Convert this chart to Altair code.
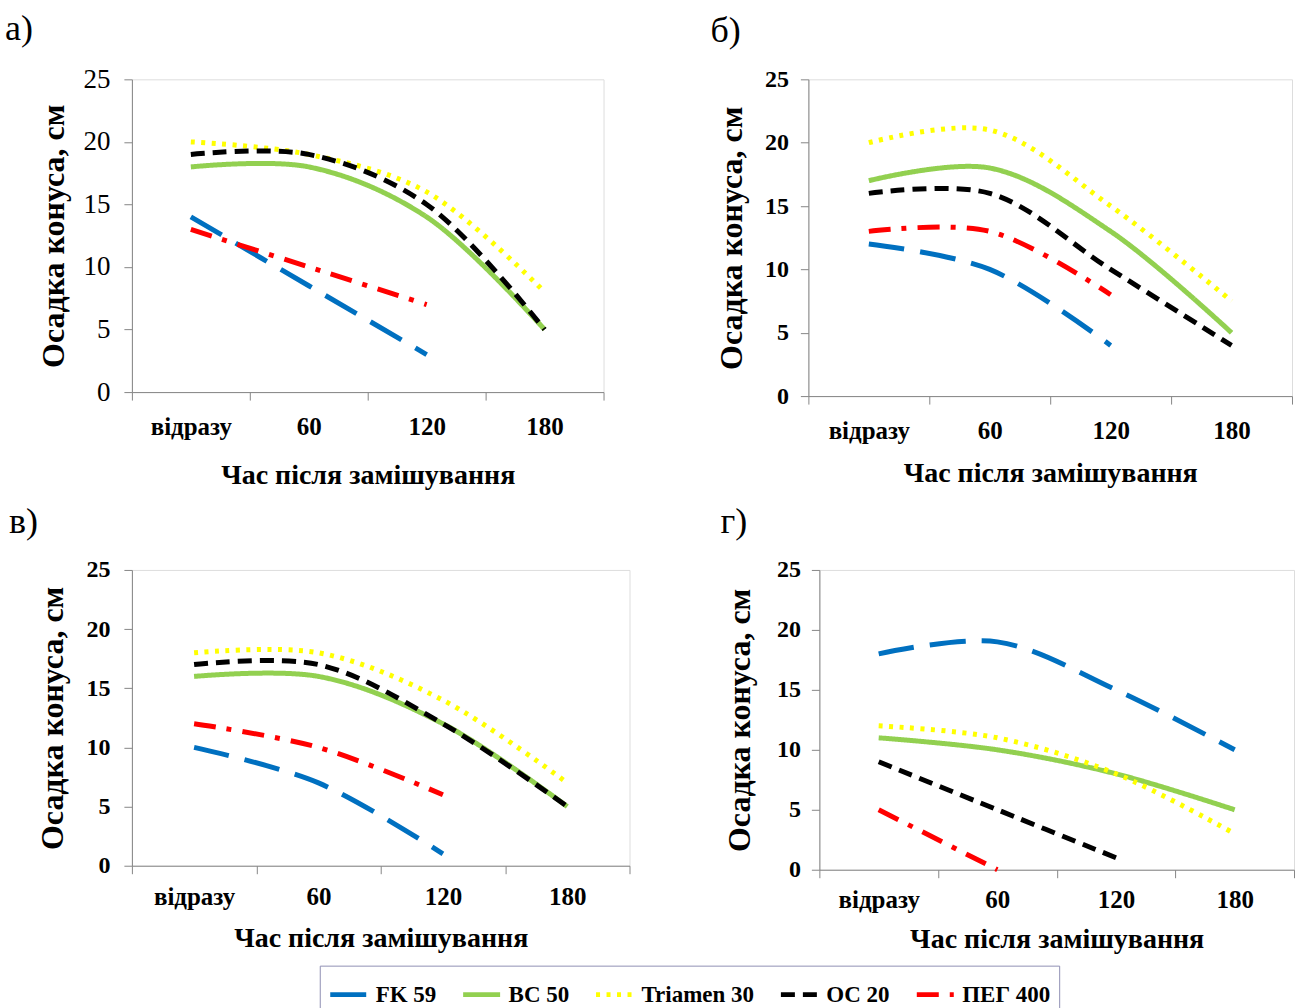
import altair as alt
import pandas as pd

FONT = "Liberation Serif"

categories = ["відразу", "60", "120", "180"]
series_names = ["FK 59", "BC 50", "Triamen 30", "OC 20", "ПЕГ 400"]
series_colors = ["#0070C0", "#92D050", "#FFFF00", "#000000", "#FF0000"]
series_dashes = [[36, 16], [1, 0], [4, 6.5], [14, 8], [22, 11, 5, 11]]

y_title = "Осадка конуса, см"
x_titles = ["Час після замішування", "Час після замішування",
            "Час після замішування", "Час  після замішування"]
panel_letters = ["а)", "б)", "в)", "г)"]

# panel а)
a_fk = [14, 8.5, 3, None]
a_bc = [18, 18, 14, 5]
a_tr = [20, 19, 16, 8]
a_oc = [19, 19, 15, 5]
a_peg = [13, 10, 7, None]
# panel б)
b_fk = [12, 10, 4, None]
b_bc = [17, 18, 13, 5]
b_tr = [20, 21, 15, 7.5]
b_oc = [16, 16, 10, 4]
b_peg = [13, 13, 8, None]
# panel в)
v_fk = [10, 7, 1, None]
v_bc = [16, 16, 12, 5]
v_tr = [18, 18, 14, 7]
v_oc = [17, 17, 12, 5]
v_peg = [12, 10, 6, None]
# panel г)
g_fk = [18, 19, 15, 10]
g_bc = [11, 10, 8, 5]
g_tr = [12, 11, 8, 3]
g_oc = [9, 5, 1, None]
g_peg = [5, 0, None, None]

y_ticks = [0, 5, 10, 15, 20, 25]


def make_df(vals_by_series):
    rows = []
    for s, vals in zip(series_names, vals_by_series):
        for i, (c, v) in enumerate(zip(categories, vals)):
            if v is not None:
                rows.append({"series": s, "time": c, "value": v, "idx": i})
    return pd.DataFrame(rows)


legend = alt.Legend(
    title=None, orient="none", direction="horizontal",
    legendX=188, legendY=887,
    symbolType="stroke", symbolSize=1369, symbolStrokeWidth=5,
    labelFont=FONT, labelFontSize=23, labelFontWeight="bold", labelColor="black",
    labelLimit=0, labelOffset=6, columnPadding=16,
    strokeColor="#9090B4", fillColor="white", padding=8,
)

AXIS_GRAY = "#868686"


def panel(letter, xt, vals, w, h, dx, ylab_weight, ylab_size, ylab_pad,
          ytitle_pad, xlab_pad, xtitle_pad, toff):
    df = make_df(vals)
    return alt.Chart(df).mark_line(
        strokeWidth=5, interpolate="catmull-rom"
    ).encode(
        x=alt.X("time:N", sort=categories, bandPosition=0.5,
                scale=alt.Scale(type="band", domain=categories,
                                paddingInner=0, paddingOuter=0),
                axis=alt.Axis(title=xt, tickBand="extent", labelAngle=0,
                              labelFont=FONT, labelFontSize=25,
                              labelFontWeight="bold", labelColor="black",
                              titleFont=FONT, titleFontSize=28,
                              titleFontWeight="bold", titleColor="black",
                              domainColor=AXIS_GRAY, tickColor=AXIS_GRAY,
                              tickSize=8, labelPadding=xlab_pad,
                              titlePadding=xtitle_pad, grid=False)),
        y=alt.Y("value:Q",
                scale=alt.Scale(domain=[0, 25], nice=False, zero=True),
                axis=alt.Axis(title=y_title, values=y_ticks,
                              labelFont=FONT, labelFontSize=ylab_size,
                              labelFontWeight=ylab_weight, labelColor="black",
                              titleFont=FONT, titleFontSize=32,
                              titleFontWeight="bold", titleColor="black",
                              domainColor=AXIS_GRAY, tickColor=AXIS_GRAY,
                              tickSize=8, labelPadding=ylab_pad,
                              titlePadding=ytitle_pad, grid=False)),
        color=alt.Color("series:N",
                        scale=alt.Scale(domain=series_names, range=series_colors),
                        legend=legend),
        strokeDash=alt.StrokeDash("series:N",
                                  scale=alt.Scale(domain=series_names,
                                                  range=series_dashes),
                                  legend=legend),
        detail="series:N",
        order=alt.Order("idx:Q"),
    ).properties(
        width=w, height=h,
        title=alt.TitleParams(letter, anchor="start", frame="bounds",
                              font=FONT, fontSize=36, fontWeight="normal",
                              color="black", dx=dx, offset=toff),
    )


pa = panel(panel_letters[0], x_titles[0], [a_fk, a_bc, a_tr, a_oc, a_peg],
           472, 313, -33, "normal", 27, 14, 12, 14, 22, 17)
pb = panel(panel_letters[1], x_titles[1], [b_fk, b_bc, b_tr, b_oc, b_peg],
           484, 317, -5, "bold", 24, 12, 16, 14, 16, 17)
pc = panel(panel_letters[2], x_titles[2], [v_fk, v_bc, v_tr, v_oc, v_peg],
           498, 296, -28, "bold", 24, 14, 16, 11, 15, 17)
pd_ = panel(panel_letters[3], x_titles[3], [g_fk, g_bc, g_tr, g_oc, g_peg],
            475, 300, -3, "bold", 24, 11, 20, 10, 13, 17)

top = alt.hconcat(pa, pb, spacing=105)
bottom = alt.hconcat(pc, pd_, spacing=89)

chart = alt.vconcat(top, bottom, spacing=13).properties(
    padding={"left": 4, "top": 10, "right": 0, "bottom": 0}
).configure_view(stroke=None).configure(background="white")

chart.save("out.html", embed_options={"renderer": "svg", "actions": False})
